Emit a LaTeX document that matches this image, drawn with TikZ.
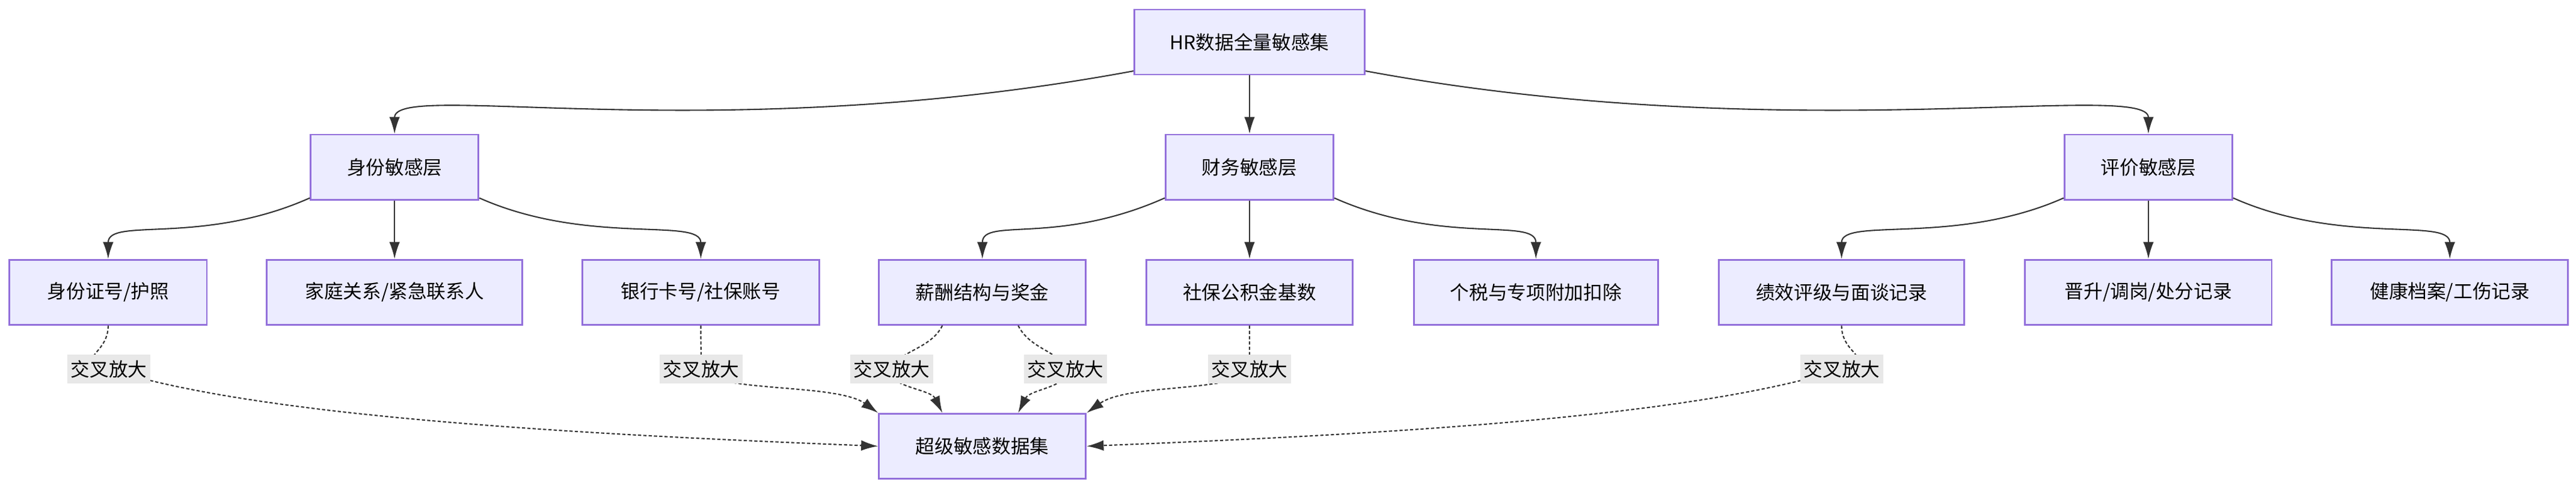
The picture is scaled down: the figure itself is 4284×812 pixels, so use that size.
\documentclass[tikz,border=0pt]{standalone}
\usepackage{fontspec}
\setmainfont{Noto Sans CJK SC}
\usetikzlibrary{calc}
\usetikzlibrary{shapes,arrows.meta,positioning}
\definecolor{boxline}{RGB}{147,112,219}
\definecolor{boxfill}{RGB}{236,236,255}

\begin{document}
\begin{tikzpicture}[x=0.01cm,y=-0.01cm,
     font=\fontsize{9}{11}\selectfont,
     box/.style = {draw=boxline, fill=boxfill, line width=0.8pt, rectangle, minimum height=1.08cm, inner sep=0pt},
     tag/.style = {fill=black!9, inner sep=1.5pt, minimum height=0.47cm},
     arrow/.style = {draw, line width=0.6pt, black!80, -{Latex[length=8pt,width=5pt]}},
     cross/.style = {draw, line width=0.6pt, black!80, dash pattern=on 1.5pt off 1pt, -{Latex[length=8pt,width=5pt]}}
    ]
    \useasboundingbox (0,0) rectangle (4284,812);

    \node [box, minimum width=3.83cm] (all) at (2078,70) {HR数据全量敏感集};
    \node [box, minimum width=2.79cm, below of=all, node distance=2.08cm] (fin) {财务敏感层};
    \node [box, minimum width=2.79cm, left of=fin, node distance=14.21cm] (ident) {身份敏感层};
    \node [box, minimum width=2.79cm, right of=fin, node distance=14.94cm] (eval) {评价敏感层};

    \node [box, minimum width=4.25cm, below of=ident, node distance=2.08cm] (family) {家庭关系/紧急联系人};
    \node [box, minimum width=3.28cm, left of=family, node distance=4.76cm] (idcard) {身份证号/护照};
    \node [box, minimum width=3.93cm, right of=family, node distance=5.09cm] (bank) {银行卡号/社保账号};
    \node [box, minimum width=3.43cm, below of=fin, node distance=2.08cm] (fund) {社保公积金基数};
    \node [box, minimum width=3.44cm, left of=fund, node distance=4.44cm] (salary) {薪酬结构与奖金};
    \node [box, minimum width=4.06cm, right of=fund, node distance=4.76cm] (tax) {个税与专项附加扣除};
    \node [box, minimum width=4.10cm, below of=eval, node distance=2.08cm] (promo) {晋升/调岗/处分记录};
    \node [box, minimum width=4.08cm, left of=promo, node distance=5.10cm] (perf) {绩效评级与面谈记录};
    \node [box, minimum width=3.93cm, right of=promo, node distance=5.01cm] (health) {健康档案/工伤记录};
    \node [box, minimum width=3.44cm, below of=salary, node distance=2.56cm] (sink) {超级敏感数据集};

    % level edges
    \draw[arrow] (all.194) .. controls +(-700,130) and +(0,-90) .. (ident.north);
    \draw[arrow] (all) -- (fin);
    \draw[arrow] (all.-14) .. controls +(700,130) and +(0,-90) .. (eval.north);
    \foreach \top/\l/\r in {ident/idcard/bank, fin/salary/tax, eval/perf/health} {
      \draw[arrow] (\top.200) .. controls +(-180,80) and +(0,-70) .. (\l.north);
      \draw[arrow] (\top.-20) .. controls +(180,80) and +(0,-70) .. (\r.north);
    }
    \draw[arrow] (ident) -- (family);
    \draw[arrow] (fin) -- (fund);
    \draw[arrow] (eval) -- (promo);

    % cross amplification
    \coordinate (c1) at (181,614);
    \coordinate (c2) at (1166,614);
    \coordinate (c3) at (1483,614);
    \coordinate (c4) at (1772,614);
    \coordinate (c5) at (2078,614);
    \coordinate (c6) at (3063,614);
    \draw[cross] (idcard.south) .. controls +(0,50) and +(-60,-20) .. (c1) .. controls +(250,80) and +(-500,-20) .. (sink.west);
    \draw[cross] (bank.south) .. controls +(0,40) and +(0,-30) .. (c2) .. controls +(20,40) and +(-70,-50) .. (sink.north west);
    \draw[cross] ($(salary.south west)+(107,0)$) .. controls +(-20,40) and +(10,-30) .. (c3) .. controls +(-10,30) and +(-20,-40) .. ($(sink.north west)+(107,0)$);
    \draw[cross] ($(salary.south west)+(233,0)$) .. controls +(20,40) and +(-10,-30) .. (c4) .. controls +(10,30) and +(20,-40) .. ($(sink.north west)+(233,0)$);
    \draw[cross] (fund.south) .. controls +(0,40) and +(0,-30) .. (c5) .. controls +(-20,40) and +(70,-50) .. (sink.north east);
    \draw[cross] (perf.south) .. controls +(0,50) and +(60,-20) .. (c6) .. controls +(-250,80) and +(500,-20) .. (sink.east);
    \foreach \c in {c1,c2,c3,c4,c5,c6}
      \node [tag] (t\c) at (\c) {交叉放大};
\end{tikzpicture}
\end{document}
